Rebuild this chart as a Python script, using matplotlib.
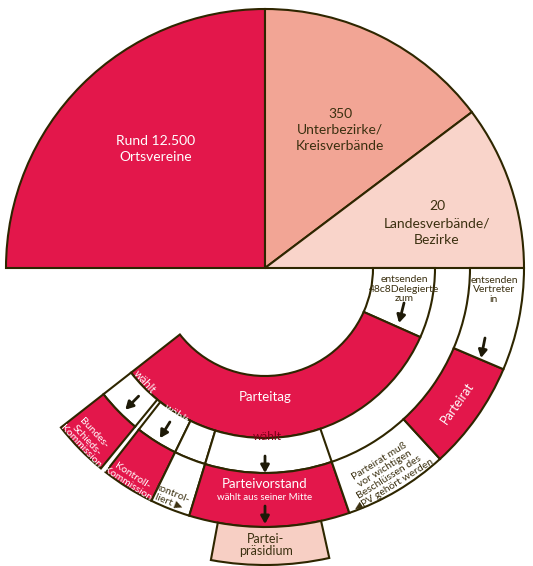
import matplotlib
matplotlib.use("Agg")
import matplotlib.pyplot as plt
from matplotlib.patches import Wedge
import numpy as np

# ---------------- data ----------------
pie_labels = ["Rund 12.500\nOrtsvereine", "350\nUnterbezirke/\nKreisverbände", "20\nLandesverbände/\nBezirke"]
pie_counts = [12500, 350, 20]
pie_spans = [90, 53, 37]          # degrees of the upper semicircle taken by each level

cell_names = ["Delegierte", "Parteitag",
              "Pfeil BSK", "Pfeil KK", "leer", "wählt",
              "Bundes-Schiedskommission", "Kontrollkommission", "kontrolliert",
              "Parteivorstand", "Anhörung", "Parteirat", "Vertreter"]
cell_ring = [0, 0, 1, 1, 1, 1, 2, 2, 2, 2, 2, 2, 2]
cell_start = [-24, -142, -142, -128, -116, -107, -142, -128, -116, -107, -71, -47.5, -23]
cell_end = [0, -24, -129.3, -116, -107, -71, -129.3, -116, -107, -71, -47.5, -23, 0]
cell_red = [False, True, False, False, False, False, True, True, False, True, False, True, False]

# ---------------- style ----------------
RED = "#e3174b"
SALMON = "#f2a595"
PINK = "#f9d4ca"
EDGE = "#2e2600"
DARK = "#3b3010"
FONT = ["Lato", "DejaVu Sans"]
plt.rcParams["font.family"] = FONT

ring_r = [(108, 170), (170, 205), (205, 259)]
R = 259
LW = 1.5

fig = plt.figure(figsize=(5.33, 5.66), dpi=100)
ax = fig.add_axes([0, 0, 1, 1])
ax.set_xlim(-265, 268)
ax.set_ylim(-298, 268)
ax.axis("off")

# upper semicircle
pie_colors = [RED, SALMON, PINK]
theta = 180
for span, col in zip(pie_spans, pie_colors):
    ax.add_patch(Wedge((0, 0), R, theta - span, theta, facecolor=col, edgecolor=EDGE, lw=LW))
    theta -= span

pie_text_pos = [(-109, 119), (75, 138), (172, 45)]
pie_text_col = ["white", DARK, DARK]
for lab, (x, y), c in zip(pie_labels, pie_text_pos, pie_text_col):
    ax.text(x, y, lab, ha="center", va="center", fontsize=10, color=c, linespacing=1.45)

# lower rings
for ring, t1, t2, red in zip(cell_ring, cell_start, cell_end, cell_red):
    rin, rout = ring_r[ring]
    ax.add_patch(Wedge((0, 0), rout, t1, t2, width=rout - rin,
                       facecolor=RED if red else "white", edgecolor=EDGE, lw=LW))

# Parteipräsidium
ax.add_patch(Wedge((0, 0), 297, -100.5, -77.5, width=297 - 259, facecolor="#f7cfc4", edgecolor=EDGE, lw=LW))

# texts
def txt(x, y, s, size, color, rot=0, **kw):
    ax.text(x, y, s, ha="center", va="center", fontsize=size, color=color, rotation=rot,
            rotation_mode="anchor", linespacing=1.05, multialignment="center", **kw)

txt(139, -21, "entsenden\n48c8Delegierte\nzum", 7.5, DARK)
txt(229, -22, "entsenden\nVertreter\nin", 7.5, DARK)
txt(0, -129, "Parteitag", 9.5, "white")
txt(-120, -114, "wählt", 8, "white", -48)
txt(-89, -146, "wählt", 8, "white", -36)
txt(2, -168, "wählt", 8.5, "#7a0016")
txt(-178, -172, "Bundes-\nSchieds-\nKommission", 7.5, "white", -47)
txt(-135, -212, "Kontroll-\nKommission", 7.5, "white", -33)
txt(-95, -230, "kontrol-\nliert ▶", 7.5, DARK, -22)
txt(0, -216, "Parteivorstand", 9.5, "white")
txt(0, -230, "wählt aus seiner Mitte", 7, "white")
txt(1, -277, "Partei-\npräsidium", 9, DARK)
txt(192, -135, "Parteirat", 9, "white", 55)
txt(122, -205, "Parteirat muß\nvor wichtigen\nBeschlüssen des\n◀PV gehört werden", 7.5, DARK, 32)

# arrows
def arrow(x0, y0, x1, y1):
    ax.annotate("", xy=(x1, y1), xytext=(x0, y0),
                arrowprops=dict(arrowstyle="-|>,head_width=0.25,head_length=0.45",
                                lw=2, color="#1e1a08", shrinkA=0, shrinkB=0))

def parrow(ang, r0, r1):
    a = np.deg2rad(ang)
    arrow(r0 * np.cos(a), r0 * np.sin(a), r1 * np.cos(a), r1 * np.sin(a))

arrow(139, -35, 134, -55)
arrow(220, -70, 216, -90)
parrow(-134.6, 180, 199)
parrow(-121.7, 181, 200)
parrow(-90, 188, 205)
parrow(-90, 238, 256)

fig.savefig("out.png", dpi=100)
